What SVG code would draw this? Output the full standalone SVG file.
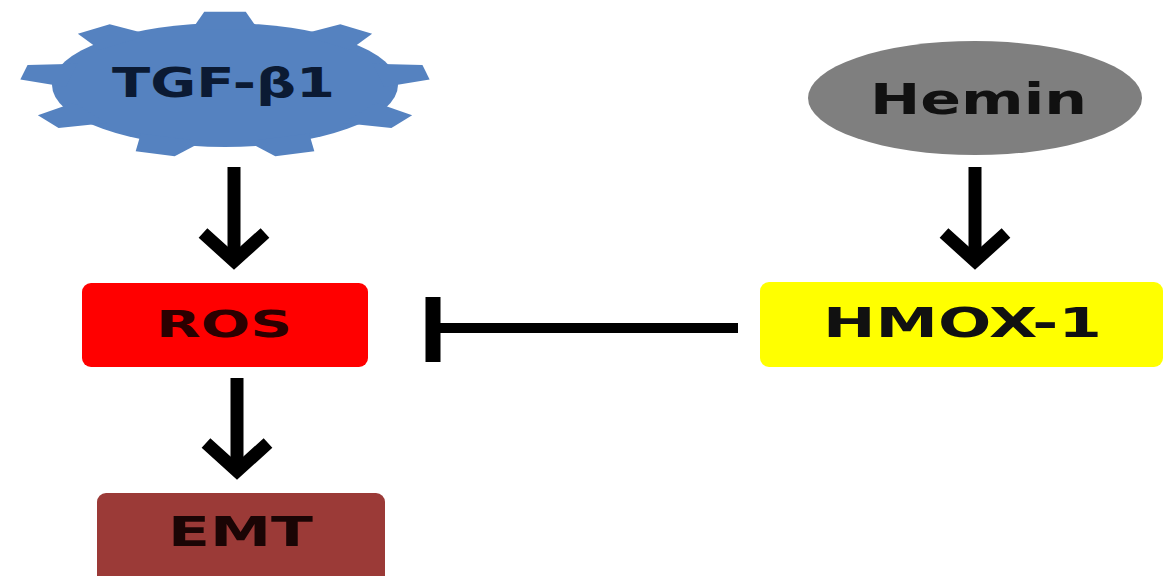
<svg xmlns="http://www.w3.org/2000/svg" width="1168" height="576" viewBox="0 0 1168 576">
  <defs>
    <style>
      .lbl { font-family: "DejaVu Sans", "Liberation Sans", sans-serif; font-weight: bold; }
      .conn { stroke: #000; fill: none; stroke-linecap: butt; }
      .gear { fill: #5582c0; }
    </style>
    <polygon id="tooth" points="0.9,-0.19 1.18,-0.12 1.18,0.12 0.9,0.19"/>
  </defs>
  <rect width="1168" height="576" fill="#fff"/>

  <g id="tgf">
    <g class="gear" transform="translate(225,85) scale(173,62)">
      <circle cx="0" cy="0" r="1"/>
      <use href="#tooth" transform="rotate(-90)"/>
      <use href="#tooth" transform="rotate(-50)"/>
      <use href="#tooth" transform="rotate(-10)"/>
      <use href="#tooth" transform="rotate(30)"/>
      <use href="#tooth" transform="rotate(70)"/>
      <use href="#tooth" transform="rotate(110)"/>
      <use href="#tooth" transform="rotate(150)"/>
      <use href="#tooth" transform="rotate(190)"/>
      <use href="#tooth" transform="rotate(230)"/>
    </g>
    <text class="lbl" x="112" y="97" font-size="40" fill="#0b1a33" textLength="223" lengthAdjust="spacingAndGlyphs">TGF-β1</text>
  </g>

  <g id="hemin">
    <ellipse cx="975" cy="98" rx="167" ry="57" fill="#7f7f7f"/>
    <text class="lbl" x="870" y="114" font-size="42" fill="#111" textLength="217" lengthAdjust="spacingAndGlyphs">Hemin</text>
  </g>

  <g id="ros">
    <rect x="82" y="283" width="286" height="84" rx="9" fill="#ff0000"/>
    <text class="lbl" x="156" y="337" font-size="37" fill="#2b0000" textLength="136" lengthAdjust="spacingAndGlyphs">ROS</text>
  </g>

  <g id="hmox1">
    <rect x="760" y="282" width="403" height="85" rx="9" fill="#ffff00"/>
    <text class="lbl" x="823" y="337" font-size="40" fill="#111" textLength="279" lengthAdjust="spacingAndGlyphs">HMOX-1</text>
  </g>

  <g id="emt">
    <rect x="97" y="493" width="288" height="100" rx="9" fill="#9b3a37"/>
    <text class="lbl" x="168" y="546" font-size="40" fill="#1a0505" textLength="145" lengthAdjust="spacingAndGlyphs">EMT</text>
  </g>

  <g id="connectors">
    <line class="conn" x1="234" y1="167" x2="234" y2="258" stroke-width="13"/>
    <polyline class="conn" points="203,233 234,261 265,233" stroke-width="13" stroke-linejoin="miter"/>
    <line class="conn" x1="975" y1="167" x2="975" y2="258" stroke-width="13"/>
    <polyline class="conn" points="944,233 975,261 1006,233" stroke-width="13" stroke-linejoin="miter"/>
    <line class="conn" x1="237" y1="378" x2="237" y2="468" stroke-width="13"/>
    <polyline class="conn" points="206,443 237,471 268,443" stroke-width="13" stroke-linejoin="miter"/>
    <line class="conn" x1="433" y1="328" x2="738" y2="328" stroke-width="10"/>
    <line class="conn" x1="433" y1="297" x2="433" y2="362" stroke-width="15"/>
  </g>
</svg>
